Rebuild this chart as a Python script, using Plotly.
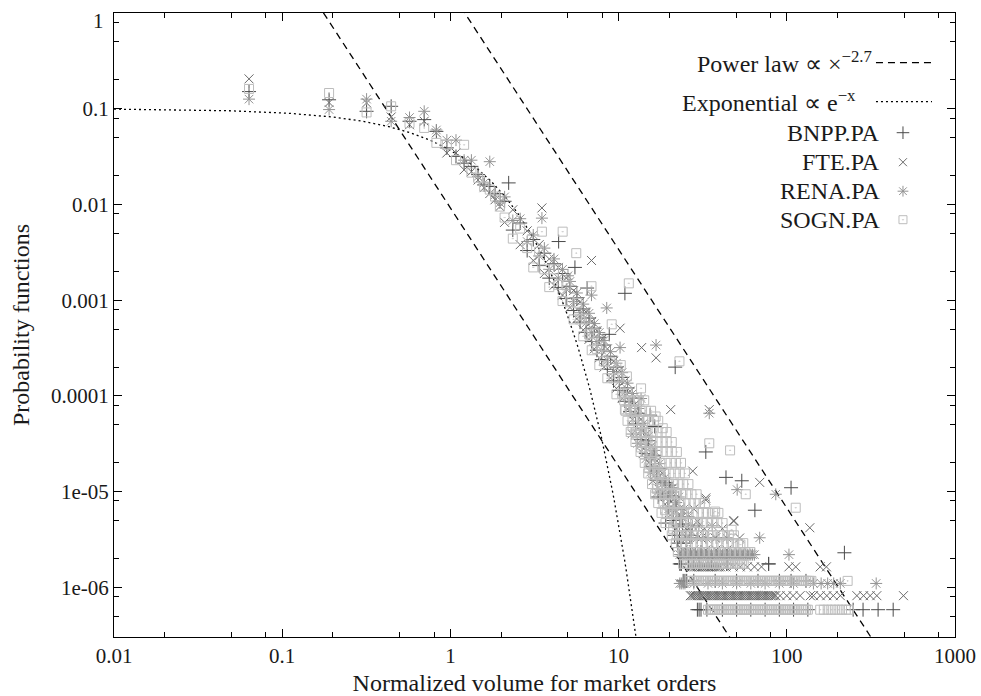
import numpy as np
import plotly.graph_objects as go

# ---------------- data ----------------
# low-volume bins (shared bin centres)
LOW_X = [0.0635, 0.19, 0.3175, 0.4445, 0.5715, 0.6985, 0.8255, 0.9525, 1.0795, 1.2065,
         1.3335, 1.4605, 1.5875, 1.7145, 1.8415, 1.9685]
bnpp_low_y = [0.151, 0.124, 0.094, 0.106, 0.074, 0.077, 0.058, 0.039, 0.0317, 0.027,
              0.025, 0.0205, 0.016, 0.0154, 0.013, 0.0108]
fte_low_y = [0.205, 0.116, 0.115, 0.082, 0.068, 0.074, 0.056, 0.0345, 0.0345, 0.023,
             0.022, 0.018, 0.015, 0.013, 0.0112, 0.0095]
rena_low_y = [0.126, 0.098, 0.126, 0.074, 0.081, 0.094, 0.060, 0.047, 0.047, 0.029,
              0.029, 0.0196, 0.0168, 0.028, 0.0126, 0.0104]
sogn_low_y = [0.161, 0.146, 0.0915, 0.106, 0.071, 0.063, 0.044, 0.042, 0.029, 0.042,
              0.0215, 0.019, 0.0154, 0.0143, 0.0121, 0.0095]

# main band
BAND_X = [2.10, 2.35, 2.6, 2.86, 3.11, 3.37, 3.62, 3.87, 4.13, 4.38,
          4.64, 4.89, 5.14, 5.40, 5.65, 5.90, 6.16, 6.41, 6.67, 6.92,
          7.17, 7.43, 7.68, 7.94, 8.19, 8.57, 8.95, 9.33, 9.71, 10.1,
          10.5, 10.9, 11.3, 11.7, 12.1, 12.6, 13.1, 13.6, 14.1, 14.6,
          15.1, 15.7, 16.3, 16.9, 17.5, 18.2, 18.9, 19.6, 20.3, 21.1,
          22.0, 23.0, 24.0, 25.1]
bnpp_band_y = [0.0108, 0.0054, 0.0064, 0.0033, 0.0043, 0.0023, 0.0031, 0.0017, 0.0024, 0.00136,
               0.0019, 0.00104, 0.0014, 7.8e-4, 0.00106, 5.9e-4, 8.1e-4, 4.6e-4, 6.5e-4, 3.7e-4,
               5.1e-4, 3.0e-4, 4.1e-4, 2.4e-4, 3.4e-4, 1.9e-4, 2.6e-4, 1.44e-4, 2.0e-4, 1.14e-4,
               1.56e-4, 8.8e-5, 1.21e-4, 6.9e-5, 9.5e-5, 5.1e-5, 6.6e-5, 3.5e-5, 4.6e-5, 2.5e-5,
               3.4e-5, 1.84e-5, 2.4e-5, 1.32e-5, 1.75e-5, 9.6e-6, 1.25e-5, 6.8e-6, 9.1e-6, 5.0e-6,
               6.5e-6, 3.5e-6, 4.6e-6, 2.9e-6]
fte_band_y = [0.0065, 0.0088, 0.0038, 0.0053, 0.0026, 0.0038, 0.0019, 0.0027, 0.00143, 0.0022,
              0.00113, 0.0017, 8.4e-4, 0.00126, 6.4e-4, 9.6e-4, 4.9e-4, 7.5e-4, 3.9e-4, 6.0e-4,
              3.1e-4, 4.8e-4, 2.5e-4, 3.9e-4, 2.0e-4, 3.1e-4, 1.54e-4, 2.3e-4, 1.2e-4, 1.85e-4,
              9.4e-5, 1.43e-4, 7.3e-5, 1.12e-4, 5.7e-5, 8.3e-5, 4.0e-5, 5.7e-5, 2.8e-5, 4.0e-5,
              2.0e-5, 3.0e-5, 1.46e-5, 2.1e-5, 1.05e-5, 1.56e-5, 7.4e-6, 1.1e-5, 5.7e-6, 8.2e-6,
              4.1e-6, 5.7e-6, 2.46e-6, 4.1e-6]
rena_band_y = [0.0120, 0.0068, 0.0071, 0.0041, 0.0048, 0.0029, 0.0035, 0.0021, 0.0027, 0.0017,
               0.0021, 0.0013, 0.00157, 9.7e-4, 0.00119, 7.4e-4, 9.1e-4, 5.8e-4, 7.3e-4, 4.6e-4,
               5.7e-4, 3.7e-4, 4.6e-4, 3.0e-4, 3.8e-4, 2.35e-4, 2.9e-4, 1.8e-4, 2.2e-4, 1.42e-4,
               1.75e-4, 1.1e-4, 1.36e-4, 8.6e-5, 1.06e-4, 6.4e-5, 7.4e-5, 4.4e-5, 5.2e-5, 3.1e-5,
               3.8e-5, 2.3e-5, 2.7e-5, 1.65e-5, 1.96e-5, 1.2e-5, 1.4e-5, 8.8e-6, 9.9e-6, 6.6e-6,
               7.7e-6, 4.4e-6, 5.5e-6, 3.3e-6]
sogn_band_y = [0.0073, 0.0044, 0.0056, 0.0035, 0.0022, 0.0032, 0.0021, 0.00137, 0.0021, 0.00145,
               9.8e-4, 0.00143, 9.5e-4, 6.3e-4, 9.4e-4, 6.3e-4, 4.2e-4, 6.4e-4, 4.4e-4, 3.0e-4,
               4.5e-4, 3.1e-4, 2.1e-4, 3.3e-4, 2.3e-4, 1.53e-4, 2.25e-4, 1.53e-4, 1.04e-4, 1.56e-4,
               1.06e-4, 7.2e-5, 1.07e-4, 7.3e-5, 4.9e-5, 7.0e-5, 4.5e-5, 2.9e-5, 4.1e-5, 2.6e-5,
               1.76e-5, 2.5e-5, 1.66e-5, 1.07e-5, 1.54e-5, 1.02e-5, 6.4e-6, 9.4e-6, 6.4e-6, 4.1e-6,
               5.8e-6, 3.5e-6, 2.34e-6, 3.5e-6]

# scattered points in the tail blob
bnpp_blob_x = [22.5, 19.0, 21.5, 27.0, 17.2, 20.0, 26.7, 30.9, 23.5, 26.0, 30.0, 36.0, 44.0, 78.0, 28.0, 34.0]
bnpp_blob_y = [2.9e-6, 4.7e-6, 3.5e-6, 3.5e-6, 8.8e-6, 1.17e-5, 2.34e-6, 2.34e-6, 1.76e-6, 1.76e-6,
               1.76e-6, 1.76e-6, 1.76e-6, 1.76e-6, 1.76e-6, 1.76e-6]
fte_blob_x = [24.2, 28.0, 33.0, 38.0, 44.0, 48.4, 25.4, 30.9, 37.5, 52.4, 26.0, 32.4, 41.4, 29.4,
              23.0, 28.0, 21.1, 33.0, 27.6, 20.0, 33.0, 48.4, 14.0, 16.0, 18.5]
fte_blob_y = [2.46e-6, 2.46e-6, 2.46e-6, 2.46e-6, 2.46e-6, 4.9e-6, 3.28e-6, 3.28e-6, 3.28e-6, 3.28e-6,
              4.1e-6, 4.1e-6, 4.1e-6, 4.9e-6, 6.6e-6, 6.6e-6, 8.2e-6, 8.2e-6, 1.64e-5, 1.15e-5,
              8.6e-6, 5.0e-6, 2.5e-5, 1.3e-5, 9.8e-6]
rena_blob_x = [17.0, 18.5, 19.2, 20.8, 21.8, 22.8, 24.5, 26.0, 27.5, 23.5, 26.5, 29.4, 33.0, 38.0,
               44.0, 30.0, 36.0, 69.0, 12.0, 13.0, 14.5, 15.5, 16.0, 17.8, 19.8, 21.0]
rena_blob_y = [9.9e-6, 8.8e-6, 1.21e-5, 9.9e-6, 7.7e-6, 8.8e-6, 6.6e-6, 5.5e-6, 4.4e-6, 5.5e-6,
               3.3e-6, 3.3e-6, 3.3e-6, 3.3e-6, 3.3e-6, 4.4e-6, 4.4e-6, 3.3e-6, 4.0e-5, 3.2e-5,
               2.2e-5, 1.6e-5, 2.4e-5, 1.3e-5, 6.6e-6, 1.1e-5]
# light-grey SOGN squares filling the tail: one x list per probability level
SOGN_BLOB_LEVELS = [9e-5, 7e-5, 5.5e-5, 4.2e-5, 3.3e-5, 2.6e-5, 2.0e-5, 1.55e-5, 1.2e-5,
                    9.4e-6, 7.6e-6, 6.0e-6, 4.7e-6, 3.5e-6, 2.9e-6, 2.34e-6]
SOGN_BLOB_XS = [
    [10.8, 11.5, 12.3, 13.2, 14.2],
    [11.0, 11.8, 12.6, 13.5, 14.5, 15.6],
    [11.3, 12.1, 13.0, 14.0, 15.0, 16.2, 17.2],
    [11.8, 12.6, 13.5, 14.5, 15.6, 16.8, 18.0, 19.3],
    [12.6, 13.5, 14.5, 15.6, 16.8, 18.0, 19.3, 20.7],
    [13.5, 14.5, 15.6, 16.8, 18.0, 19.3, 20.7, 22.2],
    [14.3, 15.4, 16.5, 17.7, 19.0, 20.4, 21.9, 23.5],
    [15.0, 16.1, 17.3, 18.6, 20.0, 21.5, 23.1, 24.8],
    [15.8, 17.0, 18.2, 19.5, 21.0, 22.5, 24.2, 26.0],
    [16.5, 17.7, 19.0, 20.4, 21.9, 23.5, 25.2, 27.1, 29.1],
    [17.2, 18.5, 19.8, 21.3, 22.9, 24.6, 26.4, 28.3, 30.4, 32.6],
    [18.0, 19.3, 20.7, 22.2, 23.8, 25.6, 27.5, 29.5, 31.7, 34.0, 36.5, 39.2],
    [19.0, 20.4, 21.9, 23.5, 25.2, 27.1, 29.1, 31.2, 33.5, 36.0, 38.6, 41.5],
    [20.7, 22.2, 23.8, 25.6, 27.5, 29.5, 31.7, 34.0, 36.5, 39.2, 42.1, 45.2, 48.5],
    [21.9, 23.5, 25.2, 27.1, 29.1, 31.2, 33.5, 36.0, 38.6, 41.5, 44.5, 47.8, 51.3, 55.1],
    [22.5, 24.2, 26.0, 27.9, 29.9, 32.1, 34.5, 37.0, 39.7, 42.6, 45.8, 49.1, 52.7, 56.6, 60.8],
]

# dense grid of bin positions used by the count-1 / count-2 rows at the bottom
ROW_GRID = [22.5, 23.1, 23.6, 24.2, 24.8, 25.4, 26.0, 26.7, 27.3, 28.0, 28.7, 29.4, 30.1, 30.9,
            31.6, 32.4, 33.2, 34.0, 34.9, 35.7, 36.6, 37.5, 38.5, 39.4, 40.4, 41.4, 42.4, 43.4,
            44.5, 45.6, 46.8, 47.9, 49.1, 50.3, 51.5, 52.8, 54.1, 55.4, 56.8, 58.2, 59.7, 61.1,
            62.6, 64.2, 65.8, 67.4, 69.1, 70.7, 72.5, 74.3, 76.1, 78.0, 80.0, 81.9, 84.0, 86.0,
            88.2, 90.3, 92.6, 94.8, 97.2, 99.5, 102.0, 104.5, 107.1, 109.7, 112.4, 115.2, 118.1,
            121.0, 124.0, 127.0, 130.2, 133.4, 136.7, 140.0]
# (level, first x, last x of the solid part, isolated extra x values)
BNPP_ROWS = [(5.85e-7, 29.0, 31.0, [33.5, 41.4, 50.3, 61.1, 74.3, 90.3, 109.7, 133.4, 248, 284, 349, 429]),
             (1.17e-6, 24.2, 25.4, [28.0, 37.5, 50.3, 67.4, 90.3, 106, 130]),
             (1.76e-6, 23.0, 23.6, [26.0, 30.0, 36.0, 44.0, 78.0])]
FTE_ROWS = [(8.2e-7, 26.7, 86.0, [91.2, 100, 109, 120, 138, 144, 158, 173, 189, 208, 261, 286,
                                  313, 343, 494]),
            (1.64e-6, 26.7, 40.4, [43.4, 47.9, 52.8, 58.2, 64.2, 70.7, 103, 113, 158, 172])]
RENA_ROWS = [(1.1e-6, 23.0, 24.8, [28.0, 34.0, 41.4, 50.3, 61.1, 74.3, 90.3, 109.7, 144, 160,
                                   175, 190, 208, 340]),
             (2.2e-6, 23.0, 64.2, [103])]
SOGN_ROWS = [(5.85e-7, 34.0, 133.4, [158, 166, 175, 184, 193, 203, 213, 224, 234]),
             (1.17e-6, 26.7, 140.0, [230]),
             (1.76e-6, 24.2, 55.4, [])]

# isolated spikes above the band
bnpp_spike_x = [2.22, 4.4, 5.5, 6.5, 10.9, 8.8, 21.7, 15.4, 16.4, 33, 43.5, 54, 106, 64.6, 220]
bnpp_spike_y = [0.0168, 0.0041, 0.0022, 0.00134, 0.00118, 4.4e-4, 2.0e-4, 6.3e-5, 4.8e-5, 2.6e-5,
                1.41e-5, 1.3e-5, 1.1e-5, 6.4e-6, 2.3e-6]
fte_spike_x = [3.5, 6.9, 10.2, 13.7, 16.7, 20.4, 34.6, 69, 137]
fte_spike_y = [0.0092, 0.0026, 5.1e-4, 3.2e-4, 2.5e-4, 7.2e-5, 7.2e-5, 1.25e-5, 4.2e-6]
rena_spike_x = [3.5, 5.0, 6.9, 8.5, 10.2, 16.7, 13.6, 34.6, 50.7, 86]
rena_spike_y = [0.0072, 0.0018, 0.00113, 8.3e-4, 3.2e-4, 3.4e-4, 9.4e-5, 6.6e-5, 1.05e-5, 9.4e-6]
sogn_spike_x = [3.5, 4.65, 5.6, 6.9, 11.5, 9.1, 23, 10.3, 11.2, 13.6, 16.6, 18.3, 34.6, 46, 57, 113,
                37.5, 47, 53]
sogn_spike_y = [0.0052, 0.0052, 0.0031, 0.0014, 0.0015, 5.6e-4, 2.3e-4, 2.1e-4, 1.6e-4, 1.2e-4,
                6.1e-5, 4.6e-5, 3.2e-5, 2.7e-5, 9.4e-6, 6.8e-6, 6.2e-6, 4.0e-6, 2.8e-6]

# reference curves
POWER_EXPONENT = -2.7
POWER_PREFACTORS = [0.0092, 1.7]
EXP_PREFACTOR = 0.1

SERIES = ["BNPP.PA", "FTE.PA", "RENA.PA", "SOGN.PA"]

# axis ticks
X_TICKS = [0.01, 0.1, 1, 10, 100, 1000]
X_TICK_TEXT = ["0.01", "0.1", "1", "10", "100", "1000"]
Y_TICKS = [1e-6, 1e-5, 1e-4, 1e-3, 1e-2, 0.1, 1]
Y_TICK_TEXT = ["1e-06", "1e-05", "0.0001", "0.001", "0.01", "0.1", ""]
X_MINOR = [0.02, 0.05, 0.08, 0.2, 0.5, 0.8, 2, 5, 8, 20, 50, 80, 200, 500, 800]
Y_MINOR = [5e-7, 8e-7, 2e-6, 5e-6, 8e-6, 2e-5, 5e-5, 8e-5, 2e-4, 5e-4, 8e-4,
           2e-3, 5e-3, 8e-3, 0.02, 0.05, 0.08, 0.2, 0.5, 0.8]
# -------------------------------------------------------------


def rows_to_points(rows):
    xs, ys = [], []
    for level, lo, hi, extra in rows:
        solid = [g for g in ROW_GRID if lo <= g <= hi]
        xs += solid + list(extra)
        ys += [level] * (len(solid) + len(extra))
    return xs, ys


def collect(low_y, band_y, blob_x, blob_y, rows, spike_x, spike_y):
    rx, ry = rows_to_points(rows)
    xs = list(LOW_X) + list(BAND_X) + list(blob_x) + rx + list(spike_x)
    ys = list(low_y) + list(band_y) + list(blob_y) + ry + list(spike_y)
    return xs, ys


sogn_blob_x, sogn_blob_y = [], []
for level, xl_ in zip(SOGN_BLOB_LEVELS, SOGN_BLOB_XS):
    sogn_blob_x += xl_
    sogn_blob_y += [level] * len(xl_)

data = {
    "BNPP.PA": collect(bnpp_low_y, bnpp_band_y, bnpp_blob_x, bnpp_blob_y, BNPP_ROWS,
                       bnpp_spike_x, bnpp_spike_y),
    "FTE.PA": collect(fte_low_y, fte_band_y, fte_blob_x, fte_blob_y, FTE_ROWS,
                      fte_spike_x, fte_spike_y),
    "RENA.PA": collect(rena_low_y, rena_band_y, rena_blob_x, rena_blob_y, RENA_ROWS,
                       rena_spike_x, rena_spike_y),
    "SOGN.PA": collect(sogn_low_y, sogn_band_y, sogn_blob_x, sogn_blob_y, SOGN_ROWS,
                       sogn_spike_x, sogn_spike_y),
}

styles = {
    "BNPP.PA": dict(symbol="cross-thin-open", color="#4a4a4a", size=10),
    "FTE.PA": dict(symbol="x-thin-open", color="#6a6a6a", size=9),
    "RENA.PA": dict(symbol="asterisk-open", color="#939393", size=10),
    "SOGN.PA": dict(symbol="square-open-dot", color="#bdbdbd", size=9),
}

FONT = "Liberation Serif"
TXT = "#1a1a1a"
fig = go.Figure()

# power-law guide lines
xl = np.array([0.01, 1000.0])
for a in POWER_PREFACTORS:
    fig.add_trace(go.Scatter(x=xl, y=a * xl ** POWER_EXPONENT, mode="lines",
                             line=dict(color="black", width=1.3, dash="7px,5px"),
                             hoverinfo="skip"))
# exponential guide
xe = np.geomspace(0.01, 14, 400)
fig.add_trace(go.Scatter(x=xe, y=EXP_PREFACTOR * np.exp(-xe), mode="lines",
                         line=dict(color="black", width=1.3, dash="2px,3px"),
                         hoverinfo="skip"))

for name in SERIES:
    xs, ys = data[name]
    st = styles[name]
    fig.add_trace(go.Scatter(x=xs, y=ys, mode="markers", name=name,
                             marker=dict(symbol=st["symbol"], size=st["size"], color=st["color"],
                                         line=dict(color=st["color"], width=1))))

# ---- gnuplot-style key (text right, sample on the right) ----
X0, X1 = 114.3, 955.0
Y0, Y1 = 13.3, 637.3


def px(x):
    return (x - X0) / (X1 - X0)


def py(y):
    return (Y1 - y) / (Y1 - Y0)


key_rows = [
    ("Power law ∝ ×<sup>−2.7</sup>", 874, 62, "line", "7px,5px"),
    ("Exponential ∝ e<sup>−x</sup>", 858, 101, "line", "2px,3px"),
    ("BNPP.PA", 882, 133, "marker", "BNPP.PA"),
    ("FTE.PA", 882, 162.5, "marker", "FTE.PA"),
    ("RENA.PA", 882, 191.5, "marker", "RENA.PA"),
    ("SOGN.PA", 882, 220, "marker", "SOGN.PA"),
]
annotations = []
shapes = []
for text, xr, yc, kind, extra in key_rows:
    annotations.append(dict(x=px(xr), y=py(yc), xref="paper", yref="paper", text=text,
                            showarrow=False, xanchor="right", yanchor="middle",
                            font=dict(family=FONT, size=24, color=TXT)))
    if kind == "line":
        shapes.append(dict(type="line", xref="paper", yref="paper", x0=px(876), x1=px(932),
                           y0=py(yc + 1), y1=py(yc + 1),
                           line=dict(color="black", width=1.3, dash=extra)))
    else:
        st = styles[extra]
        fig.add_trace(go.Scatter(x=[px(903)], y=[py(yc)], xaxis="x2", yaxis="y2", mode="markers",
                                 marker=dict(symbol=st["symbol"], size=st["size"] - 1, color=st["color"],
                                             line=dict(color=st["color"], width=1)),
                                 hoverinfo="skip"))

# the top "1" label sits a little below the frame corner, as in the original
annotations.append(dict(x=px(106), y=py(21), xref="paper", yref="paper", text="1",
                        showarrow=False, xanchor="right", yanchor="middle",
                        font=dict(family=FONT, size=21, color=TXT)))

axis_common = dict(type="log", showgrid=False, zeroline=False, showline=True, linecolor="black",
                   linewidth=1, mirror="allticks", ticks="inside", ticklen=8, tickwidth=1,
                   tickcolor="black", automargin=False,
                   tickfont=dict(family=FONT, size=21, color=TXT))

fig.update_layout(
    width=981, height=696,
    margin=dict(l=114, r=26, t=13, b=59),
    plot_bgcolor="white", paper_bgcolor="white",
    showlegend=False,
    font=dict(family=FONT, color=TXT),
    xaxis=dict(**axis_common, range=[-2, 3],
               tickvals=X_TICKS, ticktext=X_TICK_TEXT,
               minor=dict(tickvals=X_MINOR, ticks="inside", ticklen=5, tickcolor="black",
                          tickwidth=1, showgrid=False),
               title=dict(text="Normalized volume for market orders",
                          font=dict(family=FONT, size=24, color=TXT), standoff=6)),
    yaxis=dict(**axis_common, range=[-6.518, 0],
               tickvals=Y_TICKS, ticktext=Y_TICK_TEXT,
               minor=dict(tickvals=Y_MINOR, ticks="inside", ticklen=5, tickcolor="black",
                          tickwidth=1, showgrid=False),
               title=dict(text="Probability functions",
                          font=dict(family=FONT, size=24, color=TXT), standoff=14)),
    xaxis2=dict(overlaying="x", range=[0, 1], visible=False),
    yaxis2=dict(overlaying="y", range=[0, 1], visible=False),
    annotations=annotations,
    shapes=shapes,
)

fig.write_html("out.html")
